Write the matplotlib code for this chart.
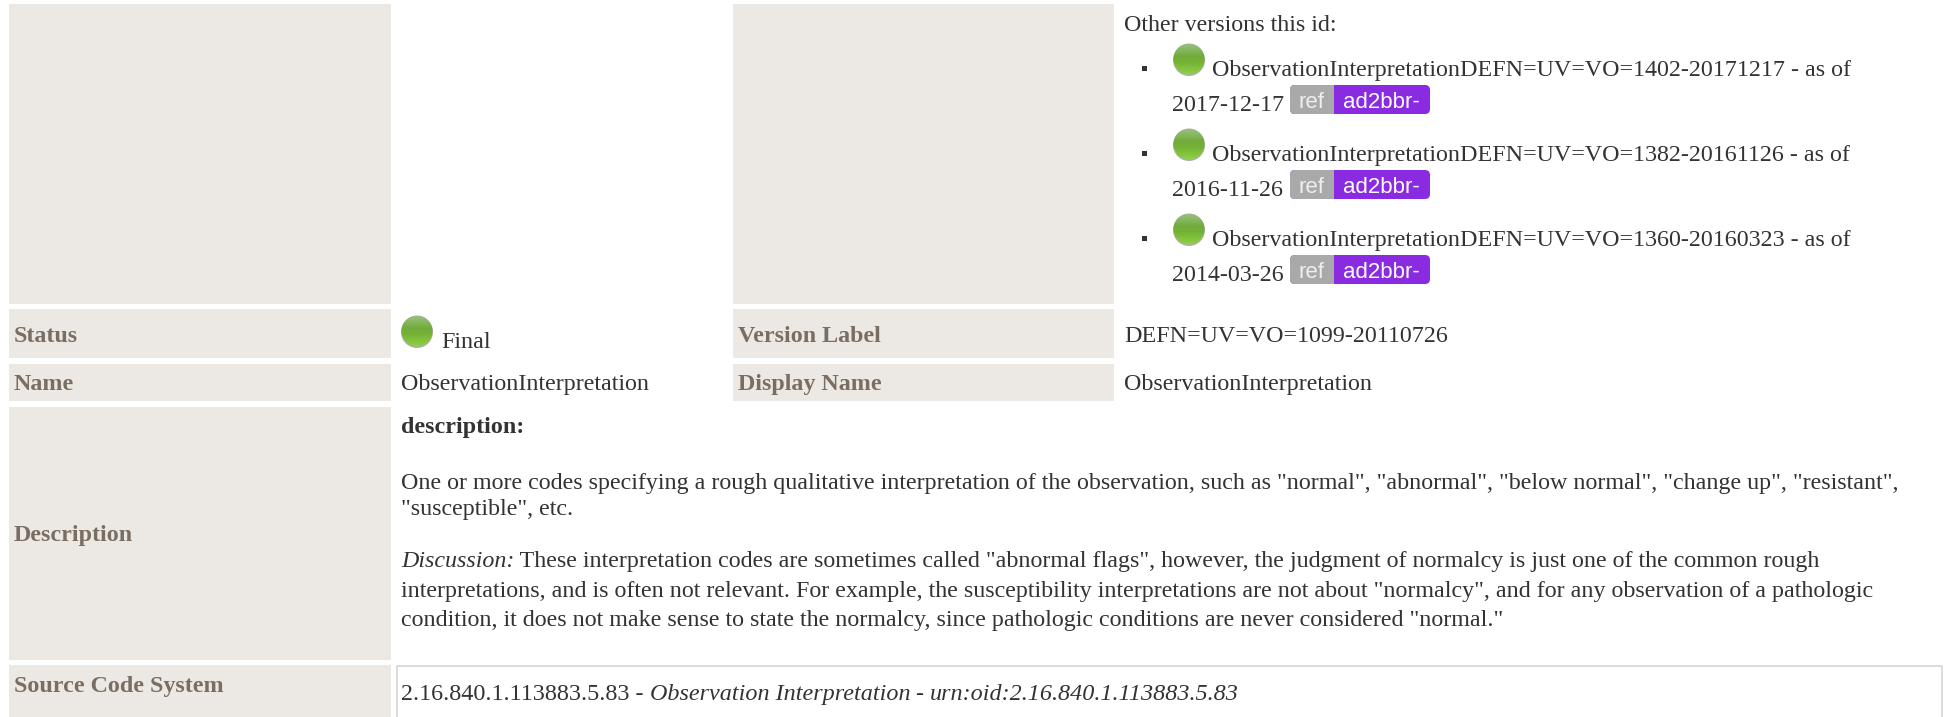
import numpy as np
import matplotlib.pyplot as plt
from matplotlib.colors import LinearSegmentedColormap
from matplotlib.patches import Rectangle, Ellipse, FancyBboxPatch

W, H = 1948, 717
SIZE = 17.3
LABEL_COL = '#7a6e62'
TEXT_COL = '#333333'
CELL_COL = '#ece9e4'

# label cells: x0, x1, y0, y1
label_cells = [
    (9, 391, 4, 304), (733, 1114, 4, 304),
    (9, 391, 309, 358), (733, 1114, 309, 358),
    (9, 391, 364, 401), (733, 1114, 364, 401),
    (9, 391, 407, 660),
    (9, 391, 665, 717),
]
# bold labels: x, baseline, text
labels = [
    (14, 342, 'Status'), (738, 342, 'Version Label'),
    (14, 390, 'Name'), (738, 390, 'Display Name'),
    (14, 541, 'Description'),
    (14, 692, 'Source Code System'),
]
# plain values: x, baseline, text
values = [
    (1124, 31, 'Other versions this id:'),
    (441, 348, 'Final'),
    (1124, 342, 'DEFN=UV=VO=1099-20110726'),
    (401, 390, 'ObservationInterpretation'),
    (1124, 390, 'ObservationInterpretation'),
    (401, 489, 'One or more codes specifying a rough qualitative interpretation of the observation, such as "normal", "abnormal", "below normal", "change up", "resistant",'),
    (401, 515, '"susceptible", etc.'),
    (401, 597, 'interpretations, and is often not relevant. For example, the susceptibility interpretations are not about "normalcy", and for any observation of a pathologic'),
    (401, 626, 'condition, it does not make sense to state the normalcy, since pathologic conditions are never considered "normal."'),
]
versions = ['ObservationInterpretationDEFN=UV=VO=1402-20171217 - as of',
            'ObservationInterpretationDEFN=UV=VO=1382-20161126 - as of',
            'ObservationInterpretationDEFN=UV=VO=1360-20160323 - as of']
version_dates = ['2017-12-17', '2016-11-26', '2014-03-26']
balls = [(417, 331), (1189, 59), (1189, 144), (1189, 229)]
ball_shades = ['#9fbc88', '#86b860', '#72ab3c', '#74b236', '#82c23c', '#92d246']

fig = plt.figure(figsize=(W / 100, H / 100), dpi=100)
ax = fig.add_axes([0, 0, 1, 1])
ax.axis('off')

ball_cmap = LinearSegmentedColormap.from_list('ball', ball_shades)


def put(x, y, s, style='normal', weight='normal', color=TEXT_COL, size=SIZE):
    t = ax.text(x, y, s, family='Liberation Serif', fontsize=size, style=style,
                weight=weight, color=color, va='baseline', ha='left')
    return t


def put_runs(x, y, runs, size=SIZE):
    # lay out mixed roman/italic runs one after the other
    r = fig.canvas.get_renderer()
    for s, style in runs:
        t = put(x, y, s, style=style, size=size)
        x = t.get_window_extent(r).x1


def ball(cx, cy):
    ax.add_patch(Ellipse((cx, cy + 1), 32, 32, fc='#a9b3a2', ec='none'))
    im = ax.imshow(np.linspace(0, 1, 32).reshape(-1, 1), cmap=ball_cmap, aspect='auto',
                   extent=(cx - 16, cx + 16, cy + 16, cy - 16), zorder=3)
    clip = Ellipse((cx, cy), 31, 31, transform=ax.transData, fc='none', ec='none')
    ax.add_patch(clip)
    im.set_clip_path(clip)


def badge(x0, y0):
    ax.add_patch(FancyBboxPatch((x0 + 3, y0 + 3), 134, 23, boxstyle='round,pad=3,rounding_size=5',
                                fc='#8a2be2', ec='none'))
    ax.add_patch(FancyBboxPatch((x0 + 3, y0 + 3), 60, 23, boxstyle='round,pad=3,rounding_size=5',
                                fc='#a9a9a9', ec='none'))
    ax.add_patch(Rectangle((x0 + 44, y0), 30, 29, fc='#8a2be2', ec='none'))
    ax.text(x0 + 22, y0 + 23, 'ref', family='Liberation Sans', fontsize=16, color='#eeeeee', ha='center', va='baseline')
    ax.text(x0 + 91, y0 + 23, 'ad2bbr-', family='Liberation Sans', fontsize=16, color='white', ha='center', va='baseline')


for x0, x1, y0, y1 in label_cells:
    ax.add_patch(Rectangle((x0, y0), x1 - x0, y1 - y0, fc=CELL_COL, ec='none'))

# source code system box
ax.plot([397, 397, 1942, 1942], [717, 666, 666, 717], color='#d8d8d8', lw=1.3)

for x, y, s in labels:
    put(x, y, s, weight='bold', color=LABEL_COL)
for x, y, s in values:
    put(x, y, s)
put(401, 433, 'description:', weight='bold')

for cx, cy in balls:
    ball(cx, cy)

for i, (name, date) in enumerate(zip(versions, version_dates)):
    off = 85 * i
    ax.add_patch(Rectangle((1142, 66 + off), 5, 5, fc='#333333', ec='none'))
    put(1212, 76 + off, name)
    put(1172, 111 + off, date)
    badge(1290, 85 + off)

ax.set_xlim(0, W)
ax.set_ylim(H, 0)

put_runs(401, 567, [('Discussion:', 'italic'), (' These interpretation codes are sometimes called "abnormal flags", however, the judgment of normalcy is just one of the common rough', 'normal')])
put_runs(401, 700, [('2.16.840.1.113883.5.83 - ', 'normal'), ('Observation Interpretation', 'italic'), (' - ', 'normal'), ('urn:oid:2.16.840.1.113883.5.83', 'italic')], size=17.42)

fig.savefig('out.png', dpi=100)
